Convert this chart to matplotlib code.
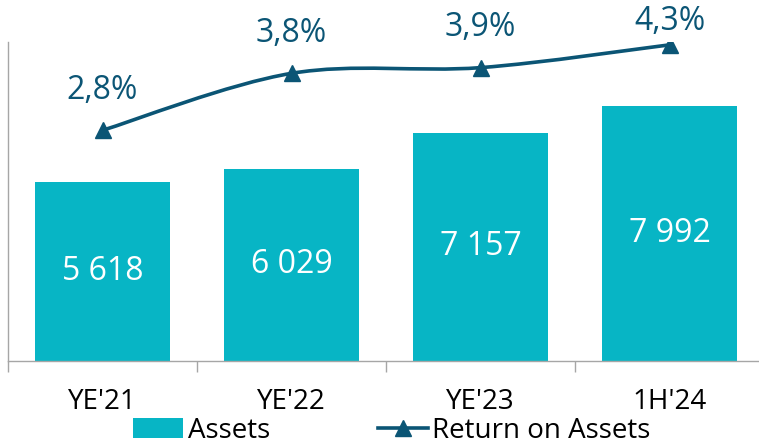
#!/usr/bin/env python3
# Assets (bars) with Return on Assets (smoothed line) on a twin axis

import numpy as np
import matplotlib
matplotlib.use('Agg')
import matplotlib.pyplot as plt
from matplotlib import font_manager
from matplotlib.path import Path
from matplotlib.patches import PathPatch
from matplotlib.lines import Line2D
from matplotlib.patches import Patch

# ---- data ----
periods=["YE'21","YE'22","YE'23","1H'24"]
assets=[5618,6029,7157,7992]
asset_labels=["5 618","6 029","7 157","7 992"]
roa=[2.8,3.8,3.9,4.3]
roa_labels=["2,8%","3,8%","3,9%","4,3%"]

# ---- style ----
bar_col='#07B5C5'
line_col='#0B5575'
axis_col='#A6A6A6'
num_font='Open Sans'
names={f.name for f in font_manager.fontManager.ttflist}
if 'Liberation Sans Narrow' in names:
    cat_font='Liberation Sans Narrow'
    cat_sz=22
else:
    cat_font='Open Sans'
    cat_sz=20
num_sz=23
lab_off=[29,29,29,17]   # label offsets above markers (pt)


def smooth_path(ax,x,y):
    # Bezier (Catmull-Rom like) through the points, built in display space
    pts=ax.transData.transform(np.column_stack([x,y]))
    n=len(pts)
    verts=[pts[0]]
    codes=[Path.MOVETO]
    for i in range(n-1):
        p0=pts[max(i-1,0)]
        p1=pts[i]
        p2=pts[i+1]
        p3=pts[min(i+2,n-1)]
        c1=p1+(p2-p0)/6.0
        c2=p2-(p3-p1)/6.0
        verts+= [c1,c2,p2]
        codes+= [Path.CURVE4]*3
    verts=ax.transData.inverted().transform(np.array(verts))
    return Path(verts,codes)


def main():
    fig=plt.figure(figsize=(7.59,4.46),dpi=100)
    ax=fig.add_axes([8/759,(446-361)/446,756/759,319/446])
    xi=np.arange(len(periods))

    ax.bar(xi,assets,width=0.714,color=bar_col,zorder=2)
    ax.set_xlim(-0.5,len(periods)-0.5)
    ax.set_ylim(0,10000)
    for x,v,s in zip(xi,assets,asset_labels):
        ax.text(x,v/2.0,s,ha='center',va='center',color='white',
                fontsize=num_sz,family=num_font,zorder=3)

    # axes look
    for sp in ['top','right']:
        ax.spines[sp].set_visible(False)
    ax.spines['left'].set_color(axis_col)
    ax.spines['bottom'].set_color(axis_col)
    ax.spines['left'].set_linewidth(1.0)
    ax.spines['bottom'].set_linewidth(1.0)
    ax.set_yticks([])
    ax.set_xticks(np.arange(-0.5,len(periods)-0.4,1.0))
    ax.set_xticklabels([])
    ax.tick_params(axis='x',length=8,color=axis_col,width=1.0,direction='out')
    for x,s in zip(xi,periods):
        ax.text(x,-0.13,s,transform=ax.get_xaxis_transform(),ha='center',
                va='center',fontsize=cat_sz,family=cat_font,color='black')

    # ROA on secondary axis
    ax2=ax.twinx()
    ax2.set_ylim(-1.25,4.35)
    ax2.set_xlim(-0.5,len(periods)-0.5)
    ax2.axis('off')
    path=smooth_path(ax2,xi,roa)
    ax2.add_patch(PathPatch(path,fill=False,edgecolor=line_col,lw=2.6,
                            zorder=4,capstyle='round'))
    ax2.plot(xi,roa,ls='none',marker='^',ms=12,color=line_col,zorder=5)
    for x,v,s,o in zip(xi,roa,roa_labels,lab_off):
        ax2.annotate(s,(x,v),xytext=(0,o),textcoords='offset points',
                     ha='center',va='center',fontsize=num_sz,
                     family=num_font,color=line_col,annotation_clip=False)

    # legend
    h=[Patch(facecolor=bar_col,edgecolor='none'),
       Line2D([0],[0],color=line_col,lw=2.6,marker='^',ms=12)]
    fig.legend(h,['Assets','Return on Assets'],loc='center',
               bbox_to_anchor=(392/759,1-431/446),ncol=2,frameon=False,
               prop={'family':cat_font,'size':cat_sz},handlelength=1.8,
               handleheight=0.72,handletextpad=0.15,columnspacing=3.9,
               borderpad=0,borderaxespad=0)

    fig.savefig('out.png',dpi=100)
    plt.close('all')


if __name__=='__main__':
    main()
